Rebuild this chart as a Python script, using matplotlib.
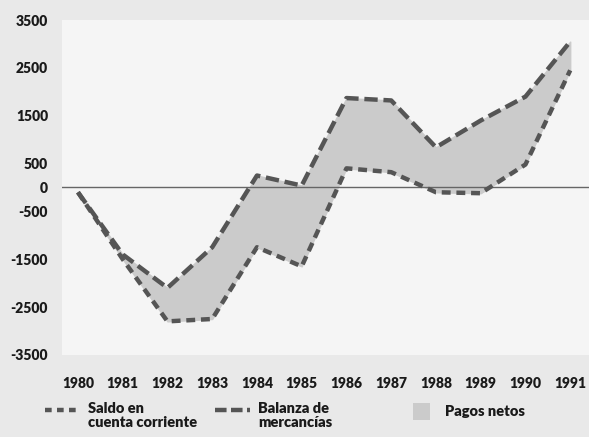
import matplotlib.pyplot as plt
from matplotlib.patches import Rectangle
from matplotlib.lines import Line2D

anios = [1980, 1981, 1982, 1983, 1984, 1985, 1986, 1987, 1988, 1989, 1990, 1991]
balanza = [-100, -1400, -2100, -1250, 250, 40, 1870, 1820, 840, 1400, 1900, 3050]
saldo = [-100, -1500, -2800, -2750, -1250, -1650, 400, 320, -100, -120, 480, 2450]
y_ticks = [3500, 2500, 1500, 500, 0, -500, -1500, -2500, -3500]
leyenda = ['Saldo en\ncuenta corriente', 'Balanza de\nmercancías', 'Pagos netos']

plt.rcParams['font.family'] = ['Lato', 'DejaVu Sans']
plt.rcParams['font.weight'] = 'heavy'

W, H = 589, 437
fig = plt.figure(figsize=(W / 100, H / 100), dpi=100, facecolor='#e9e9e9')
ax = fig.add_axes([0.105, 0.188, 0.895, 0.766])
ax.set_facecolor('#f5f5f5')

linea = '#555555'
relleno = '#cbcbcb'
ax.fill_between(anios, saldo, balanza, color=relleno, zorder=1)
ax.axhline(0, color='#666666', linewidth=1, zorder=2)
ax.plot(anios, balanza, color=linea, linewidth=3.2, dashes=(3, 1.3), zorder=3)
ax.plot(anios, saldo, color=linea, linewidth=3.2, dashes=(2, 1.3), zorder=3)

ax.set_xlim(1979.64, 1991.42)
ax.set_ylim(-3500, 3500)
ax.set_xticks(anios)
ax.set_xticklabels([str(a) for a in anios], fontsize=10, color='#1a1a1a')
ax.set_yticks(y_ticks)
ax.set_yticklabels([str(v) for v in y_ticks], fontsize=10, color='#1a1a1a')
ax.tick_params(length=0)
ax.tick_params(axis='x', pad=16)
ax.tick_params(axis='y', pad=10)
for s in ax.spines.values():
    s.set_visible(False)

# leyenda manual (coordenadas en pixeles de la figura)
def px(x, y):
    return x / W, 1 - y / H

yl = 410
for (x0, x1), d, txt in [((45, 80), (1.5, 1.2), leyenda[0]), ((215, 250), (2.6, 1.0), leyenda[1])]:
    (a, b), (c, _) = px(x0, yl), px(x1, yl)
    fig.add_artist(Line2D([a, c], [b, b], color=linea, linewidth=3.2, dashes=d,
                          transform=fig.transFigure))
    tx, ty = px(x1 + 8, yl - 8)
    fig.text(tx, ty, txt, fontsize=10.5, va='top', ha='left', color='#1a1a1a', linespacing=1.1)

rx, ry = px(413, 420)
fig.add_artist(Rectangle((rx, ry), 17 / W, 17 / H, facecolor=relleno, edgecolor='none',
                         transform=fig.transFigure))
tx, ty = px(445, 411)
fig.text(tx, ty, leyenda[2], fontsize=10.5, va='center', ha='left', color='#1a1a1a')

fig.savefig('out.png', dpi=100, facecolor=fig.get_facecolor())
